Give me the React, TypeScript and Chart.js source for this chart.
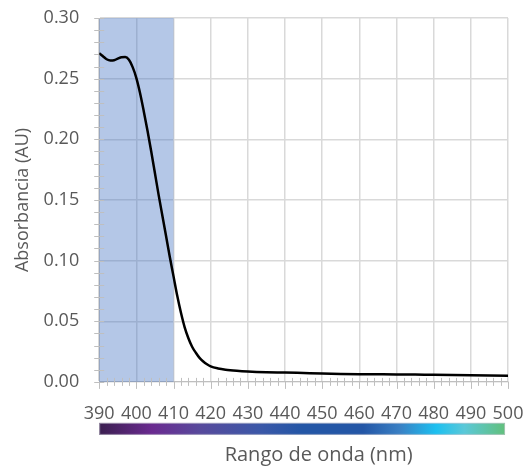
import React, { useEffect, useRef } from "react";
import { Chart, registerables } from "chart.js";

Chart.register(...registerables);

const wavelengths = [
  390, 391, 392, 393, 394, 395, 396, 397, 398, 399, 400, 401, 402, 403, 404, 405, 406, 407, 408, 409,
  410, 411, 412, 413, 414, 415, 416, 417, 418, 419, 420, 422, 424, 427, 430, 435, 440, 445, 450, 455,
  460, 465, 470, 475, 480, 485, 490, 495, 500,
];
const absorbance = [
  0.271, 0.2685, 0.266, 0.265, 0.2652, 0.2665, 0.2677, 0.2678, 0.2655, 0.2595, 0.2505, 0.238, 0.223,
  0.207, 0.19, 0.172, 0.154, 0.137, 0.12, 0.103, 0.087, 0.071, 0.057, 0.045, 0.036, 0.029, 0.024,
  0.0198, 0.0168, 0.0145, 0.0128, 0.0111, 0.0101, 0.0092, 0.0086, 0.008, 0.0077, 0.0073, 0.0069,
  0.0066, 0.0064, 0.0063, 0.0062, 0.006, 0.0058, 0.0056, 0.0054, 0.0052, 0.005,
];
const highlightRange = [390, 410];
const spectrumStops = [
  [0, "#3b1f50"],
  [0.13, "#6a2a90"],
  [0.25, "#574a9c"],
  [0.4, "#3a58a8"],
  [0.5, "#2356a6"],
  [0.65, "#2356a6"],
  [0.74, "#3a80c4"],
  [0.83, "#1cc0f0"],
  [0.9, "#5ac8d8"],
  [1, "#62c07c"],
];
const spectrumRange = [390, 499.2];
const xMinorStep = 2;
const yMinorStep = 0.01;
const xTitle = "Rango de onda (nm)";
const yTitle = "Absorbancia (AU)";

const FONT = "'Open Sans', sans-serif";
const TEXT = "#595959";
const X_PAD = 21;
const Y_PAD = 20;

const decorPlugin = {
  id: "decor",
  beforeDatasetsDraw(chart: any) {
    const { ctx, chartArea, scales } = chart;
    const x = scales.x;
    const y = scales.y;
    const x0 = x.getPixelForValue(highlightRange[0]);
    const x1 = x.getPixelForValue(highlightRange[1]);
    ctx.save();
    ctx.fillStyle = "rgba(68,114,196,0.4)";
    ctx.fillRect(x0, chartArea.top, x1 - x0, chartArea.bottom - chartArea.top);
    ctx.strokeStyle = "#bfbfbf";
    ctx.lineWidth = 1;
    for (let v = x.min; v <= x.max + 1e-9; v += xMinorStep) {
      const px = Math.round(x.getPixelForValue(v)) + 0.5;
      const r = (v - x.min) % 10;
      const major = r < 1e-6 || 10 - r < 1e-6;
      ctx.beginPath();
      ctx.moveTo(px, chartArea.bottom - (major ? 0 : 4));
      ctx.lineTo(px, chartArea.bottom + (major ? 7 : 4));
      ctx.stroke();
    }
    for (let v = y.min; v <= y.max + 1e-9; v += yMinorStep) {
      const py = Math.round(y.getPixelForValue(v)) + 0.5;
      ctx.beginPath();
      ctx.moveTo(chartArea.left - 5, py);
      ctx.lineTo(chartArea.left + 5, py);
      ctx.stroke();
    }
    ctx.restore();
  },
  afterDraw(chart: any) {
    const { ctx, chartArea, scales } = chart;
    const x = scales.x;
    ctx.save();
    const bx0 = x.getPixelForValue(spectrumRange[0]);
    const bx1 = x.getPixelForValue(spectrumRange[1]);
    const by = chartArea.bottom + 41;
    const bh = 12;
    const grad = ctx.createLinearGradient(bx0, 0, bx1, 0);
    spectrumStops.forEach(([p, c]) => grad.addColorStop(p as number, c as string));
    ctx.fillStyle = grad;
    ctx.fillRect(bx0, by, bx1 - bx0, bh);
    ctx.strokeStyle = "rgba(200,200,210,0.6)";
    ctx.strokeRect(bx0 + 0.5, by + 0.5, bx1 - bx0 - 1, bh - 1);
    ctx.fillStyle = TEXT;
    ctx.font = `20px ${FONT}`;
    ctx.textAlign = "center";
    ctx.textBaseline = "middle";
    ctx.fillText(xTitle, (chartArea.left + chartArea.right) / 2 + 15, chartArea.bottom + 73);
    ctx.restore();
  },
};

export default function App() {
  const ref = useRef<HTMLCanvasElement | null>(null);
  useEffect(() => {
    if (!ref.current) return;
    const chart = new Chart(ref.current, {
      type: "scatter",
      data: {
        datasets: [
          {
            data: wavelengths.map((w, i) => ({ x: w, y: absorbance[i] })),
            showLine: true,
            borderColor: "#000000",
            borderWidth: 2.5,
            pointRadius: 0,
            cubicInterpolationMode: "monotone",
          } as any,
        ],
      },
      options: {
        animation: false,
        responsive: false,
        maintainAspectRatio: false,
        layout: { padding: { top: 18, right: 18, left: 12, bottom: 45.5 } },
        plugins: { legend: { display: false }, tooltip: { enabled: false } },
        scales: {
          x: {
            type: "linear",
            min: 390,
            max: 500,
            ticks: { stepSize: 10, color: TEXT, font: { family: FONT, size: 18 }, padding: X_PAD, maxRotation: 0, autoSkip: false },
            grid: { color: "#d9d9d9", drawTicks: false, lineWidth: 1.5 },
            border: { color: "#bfbfbf" },
            afterFit: (s: any) => {
              s.paddingLeft = 0;
              s.paddingRight = 0;
              s.height -= X_PAD;
            },
          },
          y: {
            min: 0,
            max: 0.3,
            ticks: {
              stepSize: 0.05,
              color: TEXT,
              font: { family: FONT, size: 18 },
              padding: Y_PAD,
              callback: (v: any) => Number(v).toFixed(2),
            },
            grid: { color: "#d9d9d9", drawTicks: false, lineWidth: 1.5 },
            border: { color: "#bfbfbf" },
            title: {
              display: true,
              text: yTitle,
              color: TEXT,
              font: { family: FONT, size: 18 },
              padding: { top: 0, bottom: 10 },
            },
            afterFit: (s: any) => {
              s.paddingTop = 0;
              s.paddingBottom = 0;
              s.width -= Y_PAD;
            },
          },
        },
      },
      plugins: [decorPlugin],
    });
    return () => chart.destroy();
  }, []);
  return (
    <div style={{ position: "fixed", left: 0, top: 0, width: 526, height: 470, background: "#fff" }}>
      <canvas ref={ref} width={526} height={470} style={{ width: 526, height: 470 }} />
    </div>
  );
}
